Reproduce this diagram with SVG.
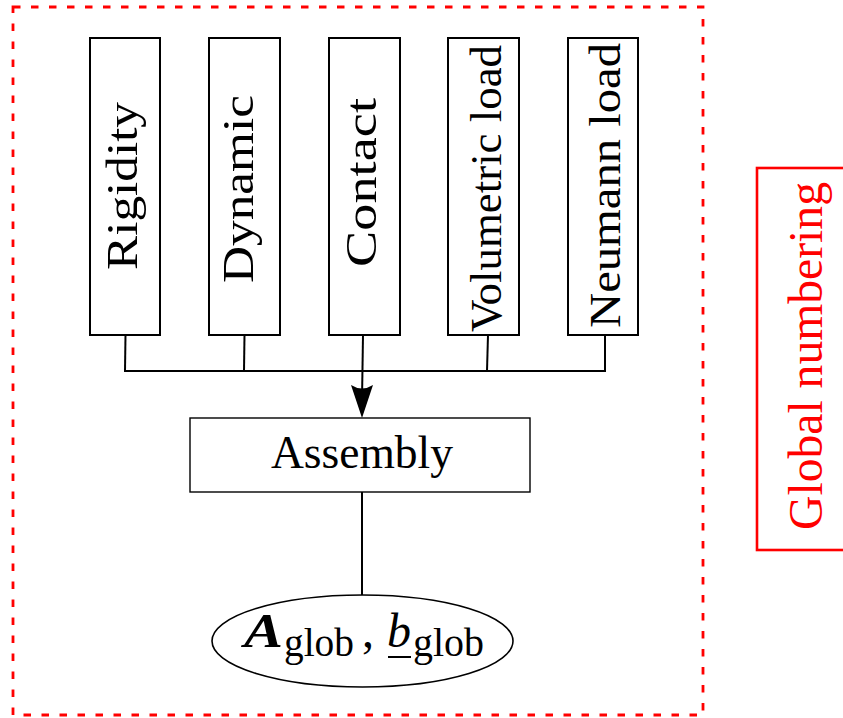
<svg xmlns="http://www.w3.org/2000/svg" width="843" height="718" viewBox="0 0 843 718">
<defs>
<style>
.box{fill:#fff;stroke:#000;stroke-width:2}
.t{font-family:"Liberation Serif","DejaVu Serif",serif;fill:#000}
.rt{font-size:45px;text-anchor:middle}
.con{fill:none;stroke:#000;stroke-width:2}
.red{fill:none;stroke:#ff0000;stroke-width:2.6}
</style>
</defs>
<rect x="13" y="7" width="690" height="708" fill="none" stroke="#ff0000" stroke-width="2.8" stroke-dasharray="7.5 10.5"/>
<g id="rigidity">
<rect class="box" x="90" y="38" width="70" height="297"/>
<text class="t rt" transform="translate(137,186) rotate(-90)" textLength="168" lengthAdjust="spacingAndGlyphs">Rigidity</text>
</g>
<g id="dynamic">
<rect class="box" x="209" y="38" width="71" height="297"/>
<text class="t rt" transform="translate(253,189) rotate(-90)" textLength="188" lengthAdjust="spacingAndGlyphs">Dynamic</text>
</g>
<g id="contact">
<rect class="box" x="329" y="38" width="71" height="297"/>
<text class="t rt" transform="translate(376,182.5) rotate(-90)" textLength="169" lengthAdjust="spacingAndGlyphs">Contact</text>
</g>
<g id="volumetric">
<rect class="box" x="448" y="38" width="71" height="297"/>
<text class="t rt" transform="translate(501,188.5) rotate(-90)" textLength="287" lengthAdjust="spacingAndGlyphs">Volumetric load</text>
</g>
<g id="neumann">
<rect class="box" x="568" y="38" width="70" height="297"/>
<text class="t rt" transform="translate(620,185.5) rotate(-90)" textLength="285" lengthAdjust="spacingAndGlyphs">Neumann load</text>
</g>
<g id="assembly">
<rect x="190" y="418" width="340" height="74" fill="#fff" stroke="#000" stroke-width="1.4"/>
<text class="t" x="362" y="468" font-size="45.5" text-anchor="middle">Assembly</text>
</g>
<g id="result">
<ellipse cx="362.5" cy="641" rx="150.5" ry="46" fill="#fff" stroke="#000" stroke-width="1.6"/>
<text class="t" x="244" y="647" font-size="49" font-weight="bold" font-style="italic" textLength="39" lengthAdjust="spacingAndGlyphs">A</text>
<text class="t" x="284" y="656" font-size="39" textLength="70" lengthAdjust="spacingAndGlyphs">glob</text>
<text class="t" x="362" y="647" font-size="48">,</text>
<text class="t" x="387" y="647" font-size="48" font-style="italic">b</text>
<line x1="388" y1="657" x2="411" y2="657" stroke="#000" stroke-width="2"/>
<text class="t" x="413" y="656" font-size="39" textLength="71" lengthAdjust="spacingAndGlyphs">glob</text>
</g>
<g id="global-numbering">
<rect class="red" x="757" y="168" width="110" height="382"/>
<text class="t" transform="translate(822,356) rotate(-90)" font-size="48" text-anchor="middle" fill="#ff0000" style="fill:#ff0000" textLength="348" lengthAdjust="spacingAndGlyphs">Global numbering</text>
</g>
<g id="connectors">
<line class="con" x1="125.5" y1="335" x2="125" y2="371"/>
<line class="con" x1="244.5" y1="335" x2="244" y2="371"/>
<line class="con" x1="488" y1="335" x2="487" y2="371"/>
<line class="con" x1="605" y1="335" x2="605" y2="371"/>
<line class="con" x1="124" y1="371" x2="606" y2="371"/>
<line class="con" x1="363" y1="335" x2="362" y2="400"/>
<path d="M362,418 L351,385 Q362,392 373,385 Z" fill="#000"/>
<line class="con" x1="362" y1="492" x2="362" y2="595"/>
</g>
</svg>
